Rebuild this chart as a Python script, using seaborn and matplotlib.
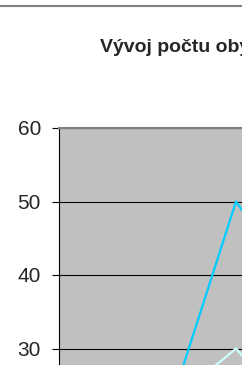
import pandas as pd
import numpy as np
import seaborn as sns
import matplotlib.pyplot as plt
from matplotlib.lines import Line2D

kategorie = ['2001', '2002', '2003', '2004', '2005', '2006', '2007', '2008']
rada_a = [15, 20, 50, 36, 30, 28, 32, 34]
rada_b = [18, 22, 30, 19, 21, 24, 22, 23]
nazvy = ['A', 'B']
barvy = ['#00CCFF', '#CCFFFF']
osa_y = [30, 40, 50, 60]

df = pd.DataFrame({
    'Rok': kategorie * 2,
    'Pocet': rada_a + rada_b,
    'Rada': [nazvy[0]] * len(kategorie) + [nazvy[1]] * len(kategorie),
})
df['x'] = df.groupby('Rada').cumcount()

sns.set_style('white')
plt.rcParams['font.family'] = ['Liberation Sans', 'DejaVu Sans']

W, H = 242, 365
fig = plt.figure(figsize=(W / 100, H / 100), dpi=100)

# only the upper left part of the chart is visible
krok = 70.8
px_na_jednotku = 7.35
sirka = krok * len(kategorie)
vyska = H - 128
ax = fig.add_axes([59 / W, 0, sirka / W, vyska / H])
ax.set_facecolor('#C0C0C0')

sns.lineplot(data=df, x='x', y='Pocet', hue='Rada', palette=barvy,
             linewidth=1.6, legend=False, ax=ax, zorder=3)

ax.set_xlim(-0.5, len(kategorie) - 0.5)
ax.set_ylim(60 - vyska / px_na_jednotku, 60)
ax.set_yticks(osa_y)
ax.yaxis.grid(True, color='black', linewidth=0.8)
ax.set_axisbelow(True)
ax.tick_params(axis='y', length=5, width=0.8, color='black', pad=8,
               labelsize=15, left=True)
ax.set_xticks([])
ax.set_xlabel('')
ax.set_ylabel('')
ax.spines['left'].set_color('black')
ax.spines['left'].set_linewidth(0.8)
ax.spines['bottom'].set_visible(False)
ax.spines['top'].set_color('#808080')
ax.spines['top'].set_linewidth(1.5)
ax.spines['right'].set_color('#808080')

fig.text(100 / W, 1 - 48 / H, 'Vývoj počtu obyvatel', fontsize=14,
         fontweight='bold', ha='left', va='center')
fig.add_artist(Line2D([0, 1], [1 - 5.5 / H, 1 - 5.5 / H], color='#808080',
                      linewidth=1.5, transform=fig.transFigure))

fig.savefig('out.png', dpi=100)
